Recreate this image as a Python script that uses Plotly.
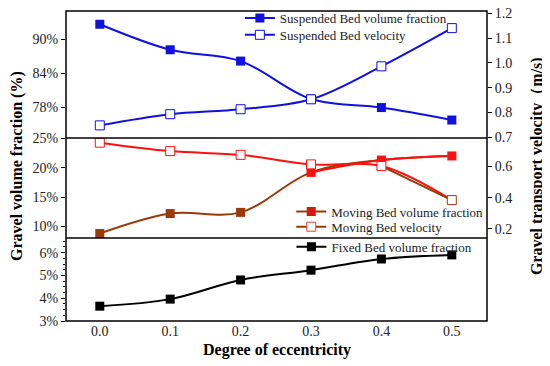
import plotly.graph_objects as go

# ---- data ----
eccentricity = [0.0, 0.1, 0.2, 0.3, 0.4, 0.5]
x_ticks = [0.0, 0.1, 0.2, 0.3, 0.4, 0.5]
susp_frac = [92.6, 88.1, 86.1, 79.4, 77.9, 75.7]
susp_vel = [0.748, 0.793, 0.813, 0.853, 0.986, 1.14]
mov_frac = [8.8, 12.2, 12.4, 19.2, 21.3, 22.0]
mov_vel = [0.753, 0.699, 0.675, 0.614, 0.603, 0.385]
fixed_frac = [3.65, 3.96, 4.8, 5.23, 5.72, 5.9]

top_left_ticks = [78, 84, 90]
mid_left_ticks = [10, 15, 20, 25]
bot_left_ticks = [3, 4, 5, 6]
top_right_ticks = [0.7, 0.8, 0.9, 1.0, 1.1, 1.2]
mid_right_ticks = [0.2, 0.4, 0.6]

BLUE = "#1010E0"
RED = "#FF1010"
BROWN = "#9A3A0A"
FONT = "Liberation Serif"

fig = go.Figure()

# Suspended bed
fig.add_trace(go.Scatter(x=eccentricity, y=susp_frac, yaxis="y", mode="lines+markers",
                         line=dict(color=BLUE, width=2, shape="spline"),
                         marker=dict(symbol="square", size=9, color=BLUE),
                         name="Suspended Bed volume fraction", legend="legend"))
fig.add_trace(go.Scatter(x=eccentricity, y=susp_vel, yaxis="y4", mode="lines+markers",
                         line=dict(color=BLUE, width=2, shape="spline"),
                         marker=dict(symbol="square", size=9, color="white", line=dict(color=BLUE, width=1)),
                         name="Suspended Bed velocity", legend="legend4"))

# Moving bed volume fraction (brown start, red end)
fig.add_trace(go.Scatter(x=eccentricity, y=mov_frac, yaxis="y2", mode="lines",
                         line=dict(color=BROWN, width=2, shape="spline"), showlegend=False))
fig.add_trace(go.Scatter(x=eccentricity[3:], y=mov_frac[3:], yaxis="y2", mode="lines",
                         line=dict(color=RED, width=2, shape="spline"), showlegend=False))
fig.add_trace(go.Scatter(x=eccentricity, y=mov_frac, yaxis="y2", mode="markers",
                         marker=dict(symbol="square", size=9,
                                     color=[BROWN, BROWN, BROWN, RED, RED, RED]),
                         showlegend=False))
# Moving bed velocity (red, brown last segment)
fig.add_trace(go.Scatter(x=eccentricity, y=mov_vel, yaxis="y5", mode="lines",
                         line=dict(color=RED, width=2, shape="spline"), showlegend=False))
fig.add_trace(go.Scatter(x=eccentricity[4:], y=mov_vel[4:], yaxis="y5", mode="lines",
                         line=dict(color=BROWN, width=2), showlegend=False))
fig.add_trace(go.Scatter(x=eccentricity, y=mov_vel, yaxis="y5", mode="markers",
                         marker=dict(symbol="square", size=9, color="white",
                                     line=dict(color=[RED, RED, RED, RED, RED, BROWN], width=1)),
                         showlegend=False))
# legend entries for moving bed
fig.add_trace(go.Scatter(x=[None], y=[None], yaxis="y2", mode="lines+markers",
                         line=dict(color=BROWN, width=2),
                         marker=dict(symbol="square", size=9, color="#D01A10"),
                         name="Moving Bed volume fraction", legend="legend2"))
fig.add_trace(go.Scatter(x=[None], y=[None], yaxis="y5", mode="lines+markers",
                         line=dict(color=BROWN, width=2),
                         marker=dict(symbol="square", size=9, color="white", line=dict(color="#E04040", width=1)),
                         name="Moving Bed velocity", legend="legend5"))

# Fixed bed
fig.add_trace(go.Scatter(x=eccentricity, y=fixed_frac, yaxis="y3", mode="lines+markers",
                         line=dict(color="black", width=2, shape="spline"),
                         marker=dict(symbol="square", size=9, color="black"),
                         name="Fixed Bed volume fraction", legend="legend3"))

tickfont = dict(family=FONT, size=14, color="#222")
d_top = [0.5903, 1.0]
d_mid = [0.2677, 0.5903]
d_bot = [0.0, 0.2677]

common_y = dict(showgrid=False, zeroline=False, ticks="outside", ticklen=4, tickwidth=1,
                tickcolor="black", tickfont=tickfont, showline=False, ticklabeloverflow="allow")


def pct(vals):
    return [f"{v}%" for v in vals]


def leg(x, y):
    return dict(x=x, y=y, xanchor="left", yanchor="middle", bgcolor="rgba(0,0,0,0)",
                font=dict(family=FONT, size=13, color="#222"), tracegroupgap=0)


# page has an 8px body margin: figure is 542x358 so plot area sits at x 66..487, y 11..321
fig.update_layout(
    width=542, height=358,
    margin=dict(l=58, r=63, t=3, b=45, autoexpand=False),
    paper_bgcolor="white", plot_bgcolor="white",
    font=dict(family=FONT, color="black"),
    showlegend=True,
    xaxis=dict(anchor="y3", range=[-0.048, 0.55], tickvals=x_ticks, tickformat=".1f",
               showgrid=False, zeroline=False, ticks="", tickfont=tickfont, showline=False),
    yaxis=dict(domain=d_top, range=[72.53, 94.94], tickvals=top_left_ticks,
               ticktext=pct(top_left_ticks), **common_y),
    yaxis2=dict(domain=d_mid, range=[8.04, 25.05], tickvals=mid_left_ticks,
                ticktext=pct(mid_left_ticks), **common_y),
    yaxis3=dict(domain=d_bot, range=[3.0, 6.64], tickvals=bot_left_ticks,
                ticktext=pct(bot_left_ticks),
                minor=dict(dtick=0.25, ticks="outside", ticklen=2, tickcolor="black"), **common_y),
    yaxis4=dict(overlaying="y", side="right", anchor="x", range=[0.697, 1.209],
                tickvals=top_right_ticks, tickformat=".1f", **common_y),
    yaxis5=dict(overlaying="y2", side="right", anchor="x", range=[0.142, 0.783],
                tickvals=mid_right_ticks, tickformat=".1f", **common_y),
    legend=leg(0.413, 0.977),
    legend4=leg(0.413, 0.923),
    legend2=leg(0.535, 0.353),
    legend5=leg(0.535, 0.304),
    legend3=leg(0.5355, 0.239),
)

# frame and panel separators
fig.add_shape(type="rect", xref="paper", yref="paper", x0=0, x1=1, y0=0, y1=1,
              line=dict(color="black", width=1.5))
for yb in (d_mid[0], d_top[0]):
    fig.add_shape(type="line", xref="paper", yref="paper", x0=0, x1=1, y0=yb, y1=yb,
                  line=dict(color="black", width=1.5))

title_font = dict(family=FONT, size=16, color="black")
fig.add_annotation(text="<b>Degree of eccentricity</b>", xref="paper", yref="paper",
                   x=0.5, y=-0.094, xanchor="center", yanchor="middle", showarrow=False, font=title_font)
fig.add_annotation(text="<b>Gravel volume fraction (%)</b>", xref="paper", yref="paper",
                   x=-0.1164, y=0.5, xanchor="center", yanchor="middle", textangle=-90,
                   showarrow=False, font=title_font)
fig.add_annotation(text="<b>Gravel transport velocity（m/s)</b>", xref="paper", yref="paper",
                   x=1.119, y=0.5, xanchor="center", yanchor="middle", textangle=-90,
                   showarrow=False, font=title_font)

fig.write_html("out.html")
